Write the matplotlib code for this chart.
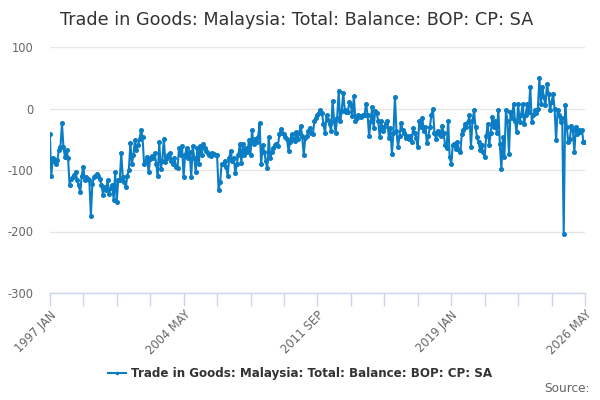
import matplotlib
matplotlib.use("Agg")
import matplotlib.pyplot as plt

title = "Trade in Goods: Malaysia: Total: Balance: BOP: CP: SA"
series_name = "Trade in Goods: Malaysia: Total: Balance: BOP: CP: SA"
tick_labels = ["1997 JAN", "", "", "", "2004 MAY", "", "", "", "2011 SEP",
               "", "", "", "2019 JAN", "", "", "", "2026 MAY"]
y_ticks = [-300, -200, -100, 0, 100]

v1997 = [-41, -109, -80, -85, -90, -83, -67, -63, -24, -63, -79, -68]
v1998 = [-80, -125, -114, -112, -108, -104, -116, -125, -136, -110, -95, -116]
v1999 = [-112, -115, -117, -174, -122, -112, -110, -107, -110, -114, -125, -140]
v2000 = [-128, -132, -117, -139, -130, -125, -148, -104, -152, -117, -117, -73]
v2001 = [-112, -120, -128, -109, -100, -56, -90, -75, -52, -68, -60, -50]
v2002 = [-35, -47, -90, -85, -79, -104, -82, -78, -80, -73, -90, -109]
v2003 = [-55, -98, -85, -49, -87, -80, -75, -72, -85, -90, -80, -95]
v2004 = [-97, -64, -75, -61, -112, -75, -64, -80, -70, -112, -61, -80]
v2005 = [-103, -64, -91, -61, -75, -57, -65, -69, -72, -75, -78, -72]
v2006 = [-74, -76, -75, -132, -120, -91, -91, -85, -95, -110, -80, -69]
v2007 = [-86, -80, -105, -90, -75, -58, -89, -57, -75, -64, -70, -52]
v2008 = [-75, -35, -58, -50, -55, -47, -24, -91, -60, -70, -85, -97]
v2009 = [-47, -80, -70, -64, -60, -58, -61, -42, -34, -40, -42, -46]
v2010 = [-50, -69, -55, -42, -50, -53, -39, -50, -40, -28, -45, -76]
v2011 = [-48, -45, -37, -32, -40, -42, -21, -15, -10, -8, -3, -8]
v2012 = [-25, -40, -11, -18, -25, -36, 13, -21, -40, -15, 28, -21]
v2013 = [-4, 26, -3, -6, -5, 10, 5, -12, 21, -21, -15, -10]
v2014 = [-12, -14, -10, -11, 8, -10, -45, -21, 2, -32, -4, -8]
v2015 = [-20, -47, -21, -36, -30, -23, -20, -48, -32, -74, -40, 19]
v2016 = [-37, -63, -45, -23, -35, -40, -48, -45, -50, -45, -54, -32]
v2017 = [-40, -48, -63, -21, -30, -15, -37, -30, -56, -45, -30, -10]
v2018 = [-1, -40, -49, -36, -42, -45, -28, -40, -60, -64, -20, -79]
v2019 = [-90, -60, -58, -66, -55, -68, -71, -41, -35, -25, -30, -22]
v2020 = [-11, -62, -20, -3, -30, -47, -55, -67, -60, -71, -79, -45]
v2021 = [-25, -60, -40, -14, -30, -20, -40, -2, -57, -99, -47, -79]
v2022 = [-3, -20, -74, -6, -15, 8, -20, -39, 8, -22, -10, 8]
v2023 = [-25, -10, 8, -5, 35, -22, -10, -3, -8, 0, 50, 8]
v2024 = [35, 18, 5, 40, 24, -3, 10, 24, 0, -52, -3, -10]
v2025 = [-22, -15, -204, 6, -30, -55, -50, -28, -35, -71, -30, -41]
v2026 = [-35, -38, -35, -55, -55]

values = (v1997 + v1998 + v1999 + v2000 + v2001 + v2002 + v2003 + v2004 +
          v2005 + v2006 + v2007 + v2008 + v2009 + v2010 + v2011 + v2012 +
          v2013 + v2014 + v2015 + v2016 + v2017 + v2018 + v2019 + v2020 +
          v2021 + v2022 + v2023 + v2024 + v2025 + v2026)
months = list(range(len(values)))

blue = "#0b7dc4"
axis_col = "#ccd6eb"
text_col = "#666666"

fig = plt.figure(figsize=(6, 4), dpi=100)
ax = fig.add_axes([0.083, 0.2675, 0.892, 0.615])
line, = ax.plot(months, values, color=blue, lw=1.5, marker="o", ms=2.6,
                label=series_name)
ax.set_ylim(-300, 100)
ax.set_xlim(0, len(values) - 1)
ax.set_yticks(y_ticks)
ax.set_yticklabels([str(t) for t in y_ticks], color=text_col, fontsize=8.3)
ax.grid(axis="y", color="#e6e6e6", lw=1)
ax.set_axisbelow(True)
for s in ["top", "right", "left"]:
    ax.spines[s].set_visible(False)
ax.spines["bottom"].set_color(axis_col)
ax.spines["bottom"].set_linewidth(1)
ax.tick_params(axis="y", length=0, pad=12)
step = (len(values) - 1) / (len(tick_labels) - 1)
ax.set_xticks([i * step for i in range(len(tick_labels))])
ax.set_xticklabels(tick_labels, rotation=45, ha="right", rotation_mode="anchor",
                   color=text_col, fontsize=8.3)
ax.tick_params(axis="x", length=9, color=axis_col, width=1, pad=2)

fig.text(0.1, 0.95, title, fontsize=12.7, color="#333333", va="center", ha="left")
leg = fig.legend(handles=[line], loc="center", bbox_to_anchor=(0.5, 0.067),
                 frameon=False, prop={"weight": "bold", "size": 8.6},
                 handlelength=1.5, markerscale=0.6, handletextpad=0.4)
for t in leg.get_texts():
    t.set_color("#333333")
fig.text(0.983, 0.028, "Source:", fontsize=8.7, color=text_col, ha="right", va="center")

fig.savefig("out.png", dpi=100)
